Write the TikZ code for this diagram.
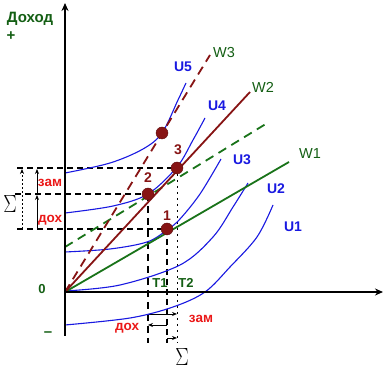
\documentclass[tikz,border=0pt]{standalone}
\usepackage{fontspec}
\setmainfont{Liberation Sans}
\usetikzlibrary{arrows.meta}
\definecolor{ublue}{RGB}{25,25,225}
\definecolor{wgreen}{RGB}{25,115,25}
\definecolor{wred}{RGB}{135,20,20}
\definecolor{tgreen}{RGB}{20,95,20}
\definecolor{lred}{RGB}{235,25,25}
\begin{document}
\begin{tikzpicture}[x=1pt,y=-1pt,
  axisline/.style={black,line width=2.2pt,-{Stealth[length=8pt,width=7pt]}},
  ucurve/.style={ublue,line width=1.1pt},
  wsolid/.style={line width=1.8pt},
  wdash/.style={line width=1.8pt,dash pattern=on 9pt off 6pt},
  guide/.style={black,line width=1.1pt,dash pattern=on 6pt off 4pt},
  guidethick/.style={black,line width=1.5pt,dash pattern=on 7pt off 5pt},
  guidedot/.style={black,line width=0.9pt,dash pattern=on 2pt off 4pt},
  harrow/.style={black,line width=0.9pt,-{Stealth[length=5pt,width=4pt]}},
  dotarrow/.style={black,line width=0.9pt,dash pattern=on 2pt off 2pt,-{Stealth[length=5pt,width=4pt]}},
  pt/.style={circle,fill=wred,draw=wred!70!black,inner sep=0pt,minimum size=12pt},
  ulab/.style={ublue,font=\fontsize{14}{14}\selectfont\bfseries,inner sep=0pt},
  wlab/.style={tgreen,font=\fontsize{14.5}{14.5}\selectfont,inner sep=0pt},
  glab/.style={tgreen,font=\fontsize{13}{13}\selectfont\bfseries,inner sep=0pt},
  rlab/.style={lred,font=\fontsize{13.5}{13.5}\selectfont\bfseries,inner sep=0pt},
  plab/.style={wred,font=\fontsize{14}{14}\selectfont\bfseries,inner sep=0pt},
  siglab/.style={black,inner sep=0pt,xscale=0.8,font=\fontsize{25}{25}\selectfont}
]
\useasboundingbox (0,0) rectangle (384,371);
\fill[white] (0,0) rectangle (384,371);

% key coordinates
\coordinate (O) at (65,292);
\coordinate (ybot) at (65,336);
\coordinate (ytop) at (65,3);
\coordinate (xend) at (383,292);
\coordinate (w1end) at (289,162);
\coordinate (w2end) at (250,92);
\coordinate (w3end) at (210,55);
\coordinate (gd1) at (65,247);
\coordinate (gd2) at (269,122);

% points
\coordinate (p1) at (167,229);
\coordinate (p2) at (148,194);
\coordinate (p3) at (177,168);
\coordinate (p4) at (162,133);

% guide lines
\coordinate (h3l) at (17,168);
\coordinate (h2l) at (15,194);
\coordinate (h1l) at (17,229);
\coordinate (v1b) at (167,343);
\coordinate (v2b) at (148,343);
\coordinate (v3b) at (177,343);
\draw[guide] (h3l) -- (p3);
\draw[guide] (h2l) -- (p2);
\draw[guide] (h1l) -- (p1);
\draw[guidethick] (p2) -- (v2b);
\draw[guide] (p1) -- (v1b);
\draw[guidedot] (p3) -- (v3b);

% left arrows
\coordinate (sa1) at (22,229);
\coordinate (sa2) at (22,169);
\coordinate (da1) at (37,229);
\coordinate (da2) at (37,195);
\coordinate (za1) at (37,194);
\coordinate (za2) at (37,169);
\draw[dotarrow] (sa1) -- (sa2);
\draw[harrow] (da1) -- (da2);
\draw[harrow] (za1) -- (za2);

% bottom arrows
\coordinate (bz1) at (148,314);
\coordinate (bz2) at (177,314);
\coordinate (bd1) at (167,325);
\coordinate (bd2) at (148,325);
\coordinate (bs1) at (167,338);
\coordinate (bs2) at (177,338);
\draw[harrow] (bz1) -- (bz2);
\draw[harrow] (bd1) -- (bd2);
\draw[harrow] (bs1) -- (bs2);

% indifference curves
\draw[ucurve] plot[smooth,tension=0.55] coordinates {(65,325) (130,318) (173,307) (205,292) (230,267) (257,237) (273,205)};
\draw[ucurve] plot[smooth,tension=0.55] coordinates {(65,291) (120,285) (180,265) (213,237) (233,207) (248,183)};
\draw[ucurve] plot[smooth,tension=0.55] coordinates {(65,252) (110,249) (147,242) (167,230) (180,219) (200,194) (221,159)};
\draw[ucurve] plot[smooth,tension=0.55] coordinates {(65,213) (113,206) (148,194) (177,167) (193,140) (205,118)};
\draw[ucurve] plot[smooth,tension=0.55] coordinates {(65,173) (110,163) (143,149) (162,133) (178,100) (186,83)};

% budget lines
\draw[wsolid,wgreen] (O) -- (w1end);
\draw[wdash,wgreen] (gd1) -- (gd2);
\draw[wsolid,wred] (O) -- (w2end);
\draw[wdash,wred] (O) -- (w3end);

% axes
\draw[axisline] (ybot) -- (ytop);
\draw[axisline] (O) -- (xend);

% points
\node[pt] (n1) at (p1) {};
\node[pt] (n2) at (p2) {};
\node[pt] (n3) at (p3) {};
\node[pt] (n4) at (p4) {};

% labels
\node[tgreen,font=\fontsize{15}{15}\selectfont\bfseries,inner sep=0pt] (doh) at (30,19) {Доход};
\node[tgreen,font=\fontsize{15}{15}\selectfont\bfseries,inner sep=0pt] (plus) at (11,36) {+};
\node[glab] (zero) at (42,289) {0};
\node[tgreen,font=\fontsize{15}{15}\selectfont\bfseries,inner sep=0pt] (minus) at (48,334) {–};
\node[wlab] (lw3) at (224,53) {W3};
\node[wlab] (lw2) at (263,87) {W2};
\node[wlab] (lw1) at (310,154) {W1};
\node[ulab] (lu5) at (183,67) {U5};
\node[ulab] (lu4) at (217,106) {U4};
\node[ulab] (lu3) at (242,160) {U3};
\node[ulab] (lu2) at (276,189) {U2};
\node[ulab] (lu1) at (293,227) {U1};
\node[plab] (l1) at (167,216) {1};
\node[plab] (l2) at (148,178) {2};
\node[plab] (l3) at (178,150) {3};
\node[glab] (lt1) at (160,283) {T1};
\node[glab] (lt2) at (186,283) {T2};
\node[rlab] (zl) at (50,183) {зам};
\node[rlab] (dl) at (50,220) {дох};
\node[rlab] (db) at (127,328) {дох};
\node[rlab] (zb) at (201,319) {зам};
\node[siglab] (sl) at (10,204) {$\Sigma$};
\node[siglab] (sb) at (182,357) {$\Sigma$};
\end{tikzpicture}
\end{document}
